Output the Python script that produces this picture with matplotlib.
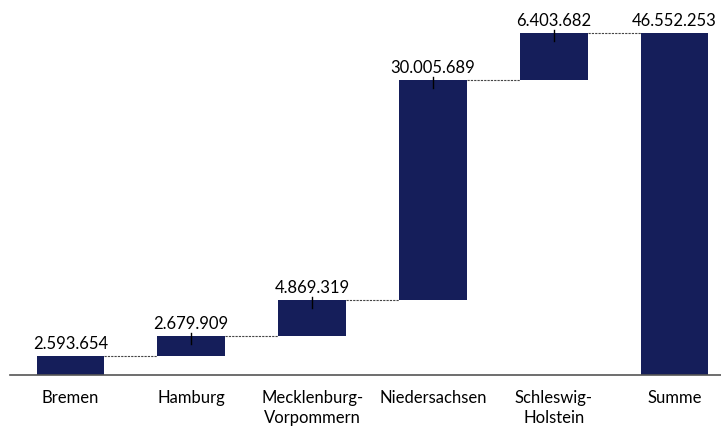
import matplotlib
matplotlib.use("Agg")
import matplotlib.pyplot as plt

categories = ["Bremen", "Hamburg", "Mecklenburg-\nVorpommern", "Niedersachsen", "Schleswig-\nHolstein", "Summe"]
increments = [2593654, 2679909, 4869319, 30005689, 6403682]
total = 46552253
labels = ["2.593.654", "2.679.909", "4.869.319", "30.005.689", "6.403.682", "46.552.253"]

plt.rcParams['font.family'] = ['Lato', 'DejaVu Sans']
color = "#151E5A"

W, H = 721, 427
fig = plt.figure(figsize=(W/100, H/100), dpi=100)
# axes in pixel coordinates: left 10, baseline at y=376 from top, top y=10
ax = fig.add_axes([10/W, 51/H, 725/W, 366/H])
ymax = total * 366 / 342
ax.set_xlim(-0.5, 5.5)
ax.set_ylim(0, ymax)

bw = 0.56
bottoms = []
tops = []
cum = 0
for v in increments:
    bottoms.append(cum)
    cum += v
    tops.append(cum)
bottoms.append(0)
tops.append(total)

xs = list(range(len(categories)))
heights = [t - b for t, b in zip(tops, bottoms)]
ax.bar(xs, heights, bottom=bottoms, width=bw, color=color, zorder=2)

# connectors
for i in range(len(xs) - 1):
    ax.plot([xs[i] + bw/2, xs[i+1] - bw/2], [tops[i], tops[i]],
            color="#444444", lw=0.8, ls=(0, (2, 1)), zorder=1)

px = ymax / 366  # data units per pixel
for i, x in enumerate(xs):
    t = tops[i]
    if i in (1, 2, 3, 4):
        ax.plot([x, x], [t - 8*px, t + 3*px], color="black", lw=1.0, zorder=3)
    ax.text(x, t + 5*px, labels[i], ha="center", va="bottom", fontsize=12, color="black")

ax.set_xticks(xs)
ax.set_xticklabels(categories, fontsize=12, linespacing=1.3)
ax.tick_params(axis="x", length=0, pad=10)
ax.set_yticks([])
for s in ["top", "right", "left"]:
    ax.spines[s].set_visible(False)
ax.spines["bottom"].set_color("#555555")
ax.spines["bottom"].set_linewidth(1.2)

fig.savefig("out.png", dpi=100)
